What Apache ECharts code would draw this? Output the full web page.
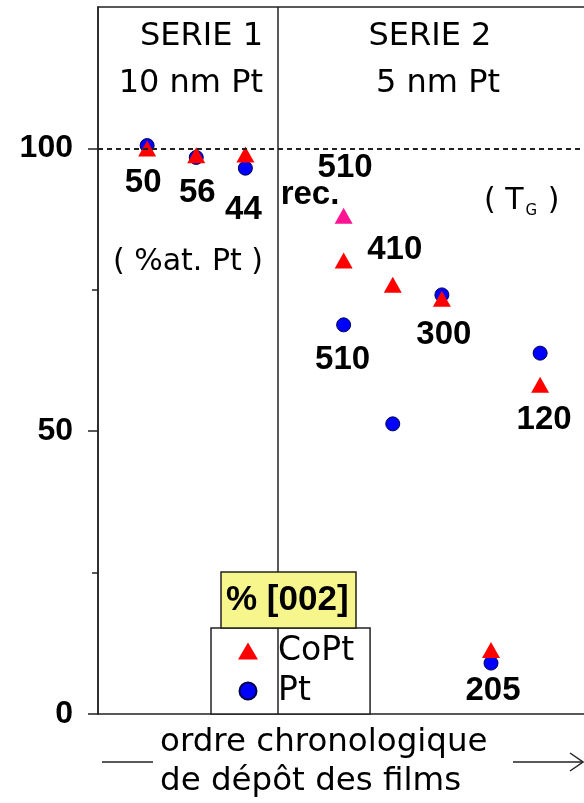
<!DOCTYPE html>
<html>
<head>
<meta charset="utf-8">
<script src="https://cdn.jsdelivr.net/npm/echarts@6/dist/echarts.min.js"></script>
<style>
  html, body { margin: 0; padding: 0; background: #fff; }
  #chart { width: 584px; height: 803px; }
</style>
</head>
<body>
<div id="chart"></div>
<script>
// Chronological deposition index of each film (x)
const depositOrder = [1, 2, 3, 5, 6, 7, 8, 9];
// Share of [002] orientation, in percent
const coptPct = [100.0, 98.8, 98.9, 80.2, 75.9, 73.4, 11.3, 58.2];
const ptPct   = [100.5, 98.4, 96.5, 68.8, 51.3, 74.1, 9.0, 63.8];
// Annealed CoPt film of SERIE 2
const annealedOrder = [5];
const annealedCoptPct = [88.1];
// Notes per film: %at. Pt for SERIE 1, growth temperature T_G for SERIE 2
const pointNotes = ['50', '56', '44', '510', '410', '300', '205', '120'];
const annealedNote = ['510', 'rec.'];
// Axis ticks
const yMajorTicks = [0, 50, 100];
const yMinorTicks = [25, 75];
const referenceLevel = 100;
const seriesBoundary = 3.65;

const INK = '#222';
const numFont = {
  fontFamily: 'Liberation Sans', fontWeight: 'bold', fontSize: 33, color: '#000',
  textBorderWidth: 0, textBorderColor: 'transparent', textShadowBlur: 0
};
const textFont = 'DejaVu Sans';

// which marker each note is attached to, and where it sits relative to it
const noteAnchor = ['copt', 'copt', 'copt', 'pt', 'copt', 'copt', 'pt', 'copt'];
const noteOffset = [[-4, 35], [1, 38], [-2, 55], [-1, 35], [2, -35], [2, 36], [2, 28], [4, 35]];

function point(x, y, note, offset) {
  const d = { value: [x, y] };
  if (note) {
    d.label = Object.assign({ show: true, position: 'inside', offset: offset, formatter: note }, numFont);
  }
  return d;
}

const ptData = depositOrder.map((x, i) =>
  point(x, ptPct[i], noteAnchor[i] === 'pt' ? pointNotes[i] : null, noteOffset[i]));
const coptData = depositOrder.map((x, i) =>
  point(x, coptPct[i], noteAnchor[i] === 'copt' ? pointNotes[i] : null, noteOffset[i]));
const annealedData = annealedOrder.map((x, i) => ({
  value: [x, annealedCoptPct[i]],
  label: Object.assign({}, numFont, {
    show: true, position: 'inside', offset: [-17, -34], width: 92,
    formatter: '{a|' + annealedNote[0] + '}\n{b|' + annealedNote[1] + '}',
    rich: {
      a: Object.assign({ align: 'right', lineHeight: 27 }, numFont),
      b: Object.assign({ align: 'left', lineHeight: 27 }, numFont)
    }
  })
}));

const chart = echarts.init(document.getElementById('chart'), null, { renderer: 'canvas' });

chart.setOption({
  animation: false,
  backgroundColor: '#fff',
  grid: {
    left: 98, top: 7, right: -20, bottom: 89,
    outerBoundsMode: 'none',
    show: true, borderColor: INK, borderWidth: 1.5, backgroundColor: 'transparent'
  },
  xAxis: {
    type: 'value', min: 0, max: 10.3,
    axisLine: { show: false }, axisTick: { show: false },
    axisLabel: { show: false }, splitLine: { show: false }
  },
  yAxis: [
    {
      type: 'value', min: 0, max: 125,
      axisLine: { show: true, lineStyle: { color: INK, width: 1.5 } },
      axisTick: { show: true, customValues: yMajorTicks, length: 10, lineStyle: { color: INK, width: 1.5 } },
      axisLabel: {
        customValues: yMajorTicks, margin: 25, fontSize: 32,
        fontFamily: 'Liberation Sans', fontWeight: 'bold', color: '#000'
      },
      splitLine: { show: false }
    },
    {
      type: 'value', min: 0, max: 125, position: 'left',
      axisLine: { show: false },
      axisTick: { show: true, customValues: yMinorTicks, length: 6, lineStyle: { color: INK, width: 1.5 } },
      axisLabel: { show: false },
      splitLine: { show: false }
    }
  ],
  title: {
    text: '% [002]',
    left: 221, top: 572,
    padding: [9, 8, 9, 5],
    backgroundColor: '#f6f68c',
    borderColor: INK, borderWidth: 1.5,
    textStyle: { fontFamily: 'Liberation Sans', fontWeight: 'bold', fontSize: 35, lineHeight: 38, color: '#000' }
  },
  legend: {
    data: ['CoPt', 'Pt'],
    orient: 'vertical',
    left: 211, top: 628,
    padding: [5, 16, 5, 27],
    itemWidth: 20, itemHeight: 17, itemGap: 4,
    backgroundColor: '#fff',
    borderColor: INK, borderWidth: 1.5, borderRadius: 0,
    selectedMode: false,
    textStyle: { fontFamily: textFont, fontSize: 33, lineHeight: 36, color: '#000', padding: [0, 0, 0, 15] }
  },
  series: [
    {
      name: 'Pt', type: 'scatter', z: 2,
      symbol: 'circle', symbolSize: 14,
      itemStyle: { color: '#0000ff', borderColor: '#00004a', borderWidth: 1, opacity: 1 },
      data: ptData
    },
    {
      name: 'CoPt', type: 'scatter', z: 3,
      symbol: 'triangle', symbolSize: [18, 16],
      itemStyle: { color: '#ff0000', opacity: 1 },
      data: coptData,
      markLine: {
        silent: true, symbol: 'none', label: { show: false },
        data: [
          { yAxis: referenceLevel, lineStyle: { type: [5, 4], color: INK, width: 2 } },
          { xAxis: seriesBoundary, lineStyle: { type: 'solid', color: INK, width: 1.5 } }
        ]
      }
    },
    {
      name: 'CoPt rec.', type: 'scatter', z: 3,
      symbol: 'triangle', symbolSize: [18, 16],
      itemStyle: { color: '#ff1493', opacity: 1 },
      data: annealedData
    }
  ],
  graphic: [
    { type: 'text', x: 263, y: 37, z: 10, style: { text: 'SERIE 1', fontFamily: textFont, fontSize: 32, fill: '#000', align: 'right', verticalAlign: 'middle' } },
    { type: 'text', x: 263, y: 84, z: 10, style: { text: '10 nm Pt', fontFamily: textFont, fontSize: 32, fill: '#000', align: 'right', verticalAlign: 'middle' } },
    { type: 'text', x: 263, y: 262, z: 10, style: { text: '( %at. Pt )', fontFamily: textFont, fontSize: 30, fill: '#000', align: 'right', verticalAlign: 'middle' } },
    { type: 'text', x: 430, y: 37, z: 10, style: { text: 'SERIE 2', fontFamily: textFont, fontSize: 32, fill: '#000', align: 'center', verticalAlign: 'middle' } },
    { type: 'text', x: 438, y: 84, z: 10, style: { text: '5 nm Pt', fontFamily: textFont, fontSize: 32, fill: '#000', align: 'center', verticalAlign: 'middle' } },
    {
      type: 'text', x: 484, y: 201, z: 10,
      style: {
        text: '( T{s|G} )', fontFamily: textFont, fontSize: 30, lineHeight: 35, fill: '#000', align: 'left', verticalAlign: 'middle',
        rich: { s: { fontFamily: textFont, fontSize: 15, lineHeight: 15, fill: '#000', verticalAlign: 'bottom', padding: [0, 1, 0, 2] } }
      }
    },
    { type: 'text', x: 160, y: 743, z: 10, style: { text: 'ordre chronologique', fontFamily: textFont, fontSize: 32.5, fill: '#000', align: 'left', verticalAlign: 'middle' } },
    { type: 'text', x: 160, y: 782, z: 10, style: { text: 'de dépôt des films', fontFamily: textFont, fontSize: 32.5, fill: '#000', align: 'left', verticalAlign: 'middle' } },
    { type: 'line', z: 10, shape: { x1: 102, y1: 762, x2: 153, y2: 762 }, style: { stroke: INK, lineWidth: 1.5 } },
    { type: 'line', z: 10, shape: { x1: 513, y1: 762, x2: 583, y2: 762 }, style: { stroke: INK, lineWidth: 1.5 } },
    { type: 'polyline', z: 10, shape: { points: [[570, 753], [583, 762], [570, 771]] }, style: { stroke: INK, lineWidth: 1.5, fill: null } }
  ]
});
</script>
</body>
</html>
